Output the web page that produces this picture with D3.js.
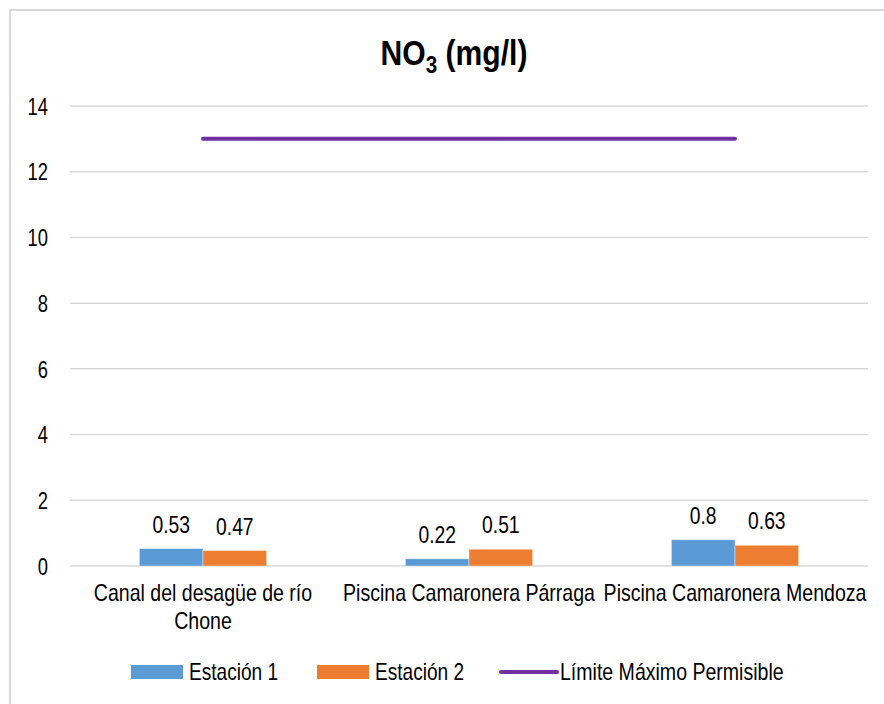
<!DOCTYPE html>
<html><head><meta charset="utf-8">
<script src="https://cdn.jsdelivr.net/npm/d3@7"></script>
<style>
body{margin:0;background:#fff;}
svg text{font-family:"Liberation Sans",Arial,sans-serif;fill:#000;}
</style></head>
<body><svg id="c" width="884" height="704"></svg>
<script>
const categories = [["Canal del desagüe de río","Chone"],["Piscina Camaronera Párraga"],["Piscina Camaronera Mendoza"]];
const estacion1 = [0.53, 0.22, 0.8];
const estacion2 = [0.47, 0.51, 0.63];
const limite = [13, 13, 13];
const yTicks = [0, 2, 4, 6, 8, 10, 12, 14];
const seriesNames = ["Estación 1", "Estación 2", "Límite Máximo Permisible"];
const colors = ["#5B9BD5", "#ED7D31", "#7030A0"];

(function(){
const svg = d3.select("#c");
// a condensed look (the original uses a narrow font)
function narrowText(parent, x, y, sx){
  return parent.append("text").attr("transform",`translate(${x},${y}) scale(${sx},1)`);
}
svg.append("rect").attr("x",10).attr("y",10).attr("width",890).attr("height",710)
  .attr("fill","none").attr("stroke","#d9d9d9").attr("stroke-width",2);

const pL = 70, pR = 868, pT = 106, pB = 566;
const idx = categories.map((d,i)=>i);
const x = d3.scaleBand().domain(idx).range([pL,pR]).paddingInner(0).paddingOuter(0);
const y = d3.scaleLinear().domain([0,14]).range([pB,pT]);

svg.append("g").selectAll("line").data(yTicks).join("line")
  .attr("x1",pL).attr("x2",pR).attr("y1",d=>y(d)).attr("y2",d=>y(d))
  .attr("stroke","#d9d9d9").attr("stroke-width",1.5);

const yAxis = svg.append("g").attr("transform",`translate(${pL-22},0)`)
  .call(d3.axisLeft(y).tickValues(yTicks).tickSize(0).tickPadding(0));
yAxis.select(".domain").remove();
yAxis.selectAll("text").attr("font-size",23).attr("x",0).attr("dy","0.36em")
  .attr("transform","scale(0.8,1)").attr("fill","#000")
  .style("font-family",'"Liberation Sans",Arial,sans-serif');

const inner = d3.scaleBand().domain([0,1]).range([0, x.bandwidth()]).paddingOuter(1.09).paddingInner(0);
const series = [estacion1, estacion2];
series.forEach((vals, s) => {
  const g = svg.append("g");
  g.selectAll("rect").data(vals).join("rect")
    .attr("x",(d,i)=>x(i)+inner(s)).attr("width",inner.bandwidth())
    .attr("y",d=>y(d)).attr("height",d=>y(0)-y(d))
    .attr("fill",colors[s]).attr("stroke","#fff").attr("stroke-opacity",0.5).attr("stroke-width",0.8);
  vals.forEach((d,i)=>{
    narrowText(g, x(i)+inner(s)+inner.bandwidth()/2, y(d)-16, 0.84)
      .attr("text-anchor","middle").attr("font-size",23).text(d);
  });
});

const line = d3.line().x((d,i)=>x(i)+x.bandwidth()/2).y(d=>y(d));
svg.append("path").datum(limite).attr("d",line).attr("fill","none")
  .attr("stroke",colors[2]).attr("stroke-width",4).attr("stroke-linecap","round");

const xl = svg.append("g");
categories.forEach((lines,i)=>{
  lines.forEach((ln,j)=>{
    narrowText(xl, x(i)+x.bandwidth()/2, 601+j*27.5, 0.85).attr("text-anchor","middle").attr("font-size",23).text(ln);
  });
});

const title = narrowText(svg, 454, 65, 0.86).attr("text-anchor","middle")
  .attr("font-size",35).attr("font-weight","bold");
title.append("tspan").text("NO");
title.append("tspan").attr("font-size",24).attr("dy",8).text("3");
title.append("tspan").attr("dy",-8).text(" (mg/l)");

const leg = svg.append("g");
const legItems = [{x:131,type:"rect"},{x:317,type:"rect"},{x:501,type:"line"}];
legItems.forEach((it,i)=>{
  if(it.type==="rect"){
    leg.append("rect").attr("x",it.x).attr("y",665).attr("width",52).attr("height",14).attr("fill",colors[i]);
    narrowText(leg, it.x+58, 680, 0.83).attr("font-size",23).text(seriesNames[i]);
  } else {
    leg.append("line").attr("x1",it.x).attr("x2",it.x+56).attr("y1",672).attr("y2",672)
      .attr("stroke",colors[i]).attr("stroke-width",4).attr("stroke-linecap","round");
    narrowText(leg, it.x+59, 680, 0.85).attr("font-size",23).text(seriesNames[i]);
  }
});
})();
</script></body></html>
